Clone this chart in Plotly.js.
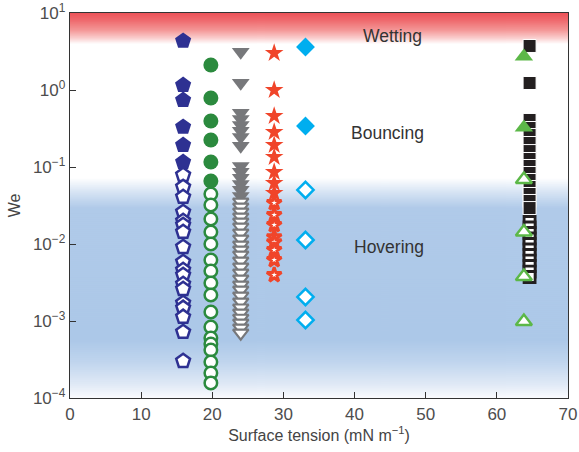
<!DOCTYPE html>
<html>
<head>
<meta charset="utf-8">
<script src="https://cdn.plot.ly/plotly-3.0.1.min.js"></script>
<style>html,body{margin:0;padding:0;background:#fff;}#chart{width:579px;height:452px;}</style>
</head>
<body>
<div id="chart"></div>
<script>
// Surface tension (mN m^-1) of each liquid
const xPentagon = 15.9;
const xCircle = 19.8;
const xTriDown = 24.0;
const xStar = 28.7;
const xDiamond = 33.1;
const xSquare = 64.6;
const xTriUp = 63.8;

// Weber numbers (filled = bouncing / wetting, open = hovering)
const pentFilled = [4.33, 1.16, 0.741, 0.331, 0.193, 0.116];
const pentOpen = [0.0787, 0.0550, 0.0408, 0.0260, 0.0199, 0.01765, 0.01432, 0.00914, 0.00584, 0.00459, 0.00396, 0.00302, 0.00260, 0.00171, 0.00148, 0.00113, 0.000720, 0.000302];
const circFilled = [2.11, 0.787, 0.396, 0.224, 0.116, 0.0658];
const circOpen = [0.0446, 0.0321, 0.0211, 0.01432, 0.0100, 0.00620, 0.00446, 0.00312, 0.00218, 0.00131, 0.000836, 0.000601, 0.000503, 0.000420, 0.000294, 0.000211, 0.000157];
const triDownFilled = [3.12, 1.233, 0.503, 0.420, 0.351, 0.2935, 0.245, 0.1874, 0.1030, 0.0861, 0.0720, 0.0601, 0.0503, 0.0420];
const triDownOpen = [0.0351, 0.0302, 0.0260, 0.0224, 0.0193, 0.0166, 0.0139, 0.0116, 0.00970, 0.00836, 0.00720, 0.00601, 0.00503, 0.00420, 0.00351, 0.00293, 0.00253, 0.00211, 0.00177, 0.00148, 0.00127, 0.00109, 0.000942, 0.000811, 0.000698];
const starFilled = [3.02, 1.0, 0.459, 0.285, 0.193, 0.135, 0.0861, 0.0620, 0.0459];
const starOpen = [0.0341, 0.0238, 0.01765, 0.0123, 0.0106, 0.00836, 0.00620, 0.00396];
const diamFilled = [3.62, 0.341];
const diamOpen = [0.0503, 0.01127, 0.00205, 0.00103];
const squareFilled = [3.73, 1.233, 0.408, 0.321, 0.260, 0.205, 0.161, 0.127, 0.1030, 0.0836, 0.0678, 0.0550, 0.0446, 0.0362, 0.0293];
const squareOpen = [0.0193, 0.01637, 0.0139, 0.01179, 0.0100, 0.00848, 0.00720, 0.00610, 0.00518, 0.00439, 0.00373];
const triUpFilled = [2.72, 0.327];
const triUpOpen = [0.0688, 0.0143, 0.00378, 0.000985];

const regionLabels = ['Wetting', 'Bouncing', 'Hovering'];
const regionLabelX = [45.4, 44.6, 44.8];
const regionLabelLogY = [0.70, -0.558, -2.04];

const yTickVals = [1e-4, 1e-3, 1e-2, 1e-1, 1, 10];
const yTickText = ['10<sup>−4</sup>', '10<sup>−3</sup>', '10<sup>−2</sup>', '10<sup>−1</sup>', '10<sup>0</sup>', '10<sup>1</sup>'];
const xTickVals = [0, 10, 20, 30, 40, 50, 60, 70];

function pts(xv, ys, symbol, size, fill, lineColor, lineWidth) {
  return {
    type: 'scatter', mode: 'markers', hoverinfo: 'skip', showlegend: false,
    x: ys.map(() => xv), y: ys,
    marker: { symbol: symbol, size: size, color: fill, line: { color: lineColor, width: lineWidth } }
  };
}

const navy = '#2e3192', green = '#2b8a3e', gray = '#77787b', red = '#f0452a', cyan = '#00aeef', black = '#231f20', lgreen = '#5cb848';

const traces = [
  pts(xPentagon, pentFilled, 'pentagon', 17, navy, navy, 0),
  pts(xPentagon, pentOpen, 'pentagon', 14.5, '#ffffff', navy, 2.5),
  pts(xCircle, circFilled, 'circle', 15, green, green, 0),
  pts(xCircle, circOpen, 'circle', 12.5, '#ffffff', green, 2.5),
  pts(xTriDown, triDownFilled, 'triangle-down', 15.5, gray, gray, 0),
  pts(xTriDown, triDownOpen, 'triangle-down', 13.5, '#ffffff', gray, 2.2),
  pts(xStar, starFilled, 'star', 14, red, red, 0),
  pts(xStar, starOpen, 'star', 11, '#ffffff', red, 3),
  pts(xDiamond, diamFilled, 'diamond', 14.5, cyan, cyan, 0),
  pts(xDiamond, diamOpen, 'diamond', 12.5, '#ffffff', cyan, 2.5),
  pts(xSquare, squareFilled, 'square', 13, black, '#ffffff', 1),
  pts(xSquare, squareOpen, 'square', 11, '#ffffff', black, 2.8),
  pts(xTriUp, triUpFilled, 'triangle-up', 16, lgreen, lgreen, 0),
  pts(xTriUp, triUpOpen, 'triangle-up', 14, '#ffffff', lgreen, 2.5)
];

// background bands (red = wetting zone, blue = hovering zone) as a vertical gradient image
function bandImage() {
  const H = 385;
  const c = document.createElement('canvas');
  c.width = 4; c.height = H;
  const ctx = c.getContext('2d');
  const g = ctx.createLinearGradient(0, 0, 0, H);
  const stops = [
    [0, 'rgb(236,82,88)'], [7, 'rgb(239,104,108)'], [17, 'rgb(244,150,150)'], [25, 'rgb(250,205,205)'], [31, 'rgb(255,255,255)'],
    [165, 'rgb(255,255,255)'], [179, 'rgb(215,228,244)'], [195, 'rgb(176,202,233)'], [327, 'rgb(172,200,232)'],
    [349, 'rgb(192,213,238)'], [372, 'rgb(225,234,246)'], [385, 'rgb(250,251,254)']
  ];
  stops.forEach(s => g.addColorStop(s[0] / H, s[1]));
  ctx.fillStyle = g;
  ctx.fillRect(0, 0, 4, H);
  return c.toDataURL('image/png');
}

const fam = 'Liberation Sans, Arial, sans-serif';
const tickFont = { family: fam, size: 17, color: '#4d4d4d' };

const layout = {
  width: 579, height: 452,
  margin: { l: 70, r: 11, t: 13, b: 54 },
  paper_bgcolor: '#ffffff',
  plot_bgcolor: 'rgba(0,0,0,0)',
  showlegend: false,
  font: { family: fam, color: '#444' },
  xaxis: {
    range: [0, 70], tickvals: xTickVals, ticks: 'inside', ticklen: 6, tickwidth: 1, tickcolor: '#333',
    showline: true, mirror: true, linecolor: '#333', linewidth: 1.2, showgrid: false, zeroline: false,
    tickfont: tickFont,
    title: { text: 'Surface tension (mN m<sup>−1</sup>)', font: { family: fam, size: 16, color: '#444' }, standoff: 7 }
  },
  yaxis: {
    type: 'log', range: [-4, 1], tickvals: yTickVals, ticktext: yTickText,
    ticks: 'inside', ticklen: 6, tickwidth: 1, tickcolor: '#333',
    showline: true, mirror: true, linecolor: '#333', linewidth: 1.2, showgrid: false, zeroline: false,
    tickfont: tickFont,
    title: { text: 'We', font: { family: fam, size: 16, color: '#444' }, standoff: 8 }
  },
  images: [{ source: bandImage(), xref: 'paper', yref: 'paper', x: 0, y: 1, sizex: 1, sizey: 1, sizing: 'stretch', xanchor: 'left', yanchor: 'top', layer: 'below' }],
  annotations: regionLabels.map((t, i) => ({
    text: t, x: regionLabelX[i], y: regionLabelLogY[i], xref: 'x', yref: 'y', showarrow: false,
    font: { family: fam, size: 17.5, color: '#333' }
  }))
};

Plotly.newPlot('chart', traces, layout, { displayModeBar: false, staticPlot: true });
</script>
</body>
</html>
